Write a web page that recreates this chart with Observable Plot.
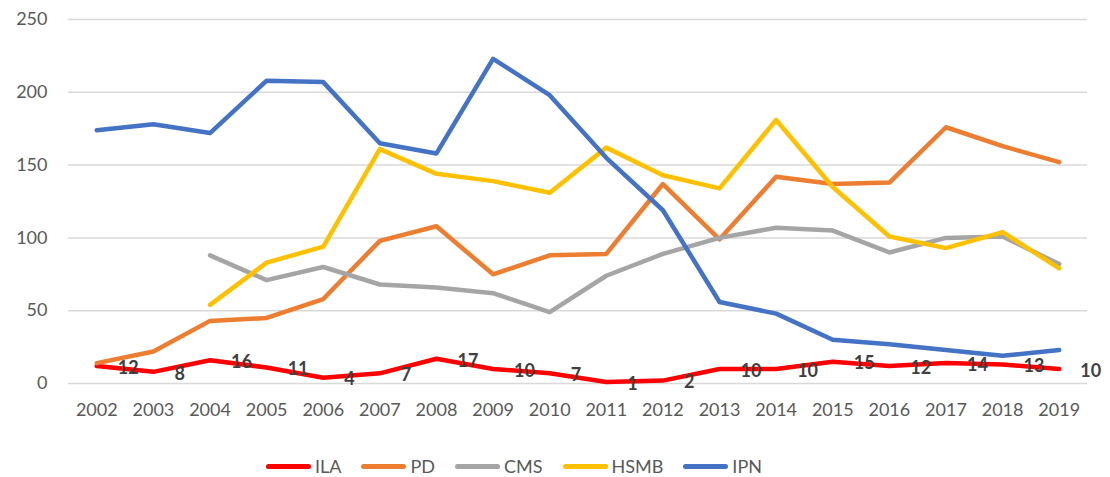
<!DOCTYPE html>
<html>
<head>
<meta charset="utf-8">
<script src="https://cdn.jsdelivr.net/npm/d3@7"></script>
<script src="https://cdn.jsdelivr.net/npm/@observablehq/plot@0.6"></script>
<style>
  html, body { margin: 0; padding: 0; background: #fff; }
  body { width: 1110px; height: 477px; overflow: hidden; font-family: Lato, "Open Sans", sans-serif; position: relative; }
  #legend { position: absolute; left: 266px; top: 456px; display: flex; align-items: center; gap: 20px; height: 20px; line-height: 20px; font-size: 18px; color: #595959; }
  .item { display: flex; align-items: center; gap: 4px; }
  .sw { width: 45px; height: 5px; border-radius: 3px; }
</style>
</head>
<body>
<div id="chart"></div>
<div id="legend"></div>
<script>
const years = ["2002","2003","2004","2005","2006","2007","2008","2009","2010","2011","2012","2013","2014","2015","2016","2017","2018","2019"];
const seriesNames = ["ILA", "PD", "CMS", "HSMB", "IPN"];
const seriesColors = ["#FF0000", "#ED7D31", "#A5A5A5", "#FFC000", "#4472C4"];
const ILA  = [12, 8, 16, 11, 4, 7, 17, 10, 7, 1, 2, 10, 10, 15, 12, 14, 13, 10];
const PD   = [14, 22, 43, 45, 58, 98, 108, 75, 88, 89, 137, 99, 142, 137, 138, 176, 163, 152];
const CMS  = [null, null, 88, 71, 80, 68, 66, 62, 49, 74, 89, 100, 107, 105, 90, 100, 101, 82];
const HSMB = [null, null, 54, 83, 94, 161, 144, 139, 131, 162, 143, 134, 181, 135, 101, 93, 104, 79];
const IPN  = [174, 178, 172, 208, 207, 165, 158, 223, 198, 155, 119, 56, 48, 30, 27, 23, 19, 23];
const yTicks = [0, 50, 100, 150, 200, 250];

const valuesBySeries = [ILA, PD, CMS, HSMB, IPN];
const rows = [];
seriesNames.forEach((s, i) => {
  years.forEach((y, j) => rows.push({series: s, year: y, value: valuesBySeries[i][j]}));
});
const ilaRows = rows.filter(d => d.series === "ILA");

const chart = Plot.plot({
  width: 1110,
  height: 445,
  marginLeft: 68,
  marginRight: 23,
  marginTop: 19,
  marginBottom: 62,
  style: {fontFamily: "Lato, 'Open Sans', sans-serif", background: "#fff"},
  x: {type: "point", domain: years, padding: 0.5, round: false, label: null},
  y: {domain: [0, 250], ticks: yTicks, label: null},
  color: {domain: seriesNames, range: seriesColors},
  marks: [
    Plot.gridY(yTicks, {stroke: "#D9D9D9", strokeOpacity: 1, strokeWidth: 1.5}),
    Plot.axisY(yTicks, {tickSize: 0, tickPadding: 21, fontSize: 18, fill: "#595959", label: null}),
    Plot.axisX({tickSize: 0, tickPadding: 20, fontSize: 18, fill: "#595959", label: null}),
    ...seriesNames.map(s => Plot.line(rows.filter(d => d.series === s), {
      x: "year", y: "value", stroke: "series", strokeWidth: 4.5,
      strokeLinecap: "round", strokeLinejoin: "round"
    })),
    Plot.text(ilaRows, {
      x: "year", y: "value", text: d => String(d.value), dx: 21, dy: 2,
      textAnchor: "start", fontWeight: "bold", fontSize: 18, fill: "#404040"
    })
  ]
});
document.getElementById("chart").appendChild(chart);

const legend = document.getElementById("legend");
seriesNames.forEach((s, i) => {
  const item = document.createElement("div");
  item.className = "item";
  const sw = document.createElement("div");
  sw.className = "sw";
  sw.style.background = seriesColors[i];
  const t = document.createElement("span");
  t.textContent = s;
  item.appendChild(sw);
  item.appendChild(t);
  legend.appendChild(item);
});
</script>
</body>
</html>
